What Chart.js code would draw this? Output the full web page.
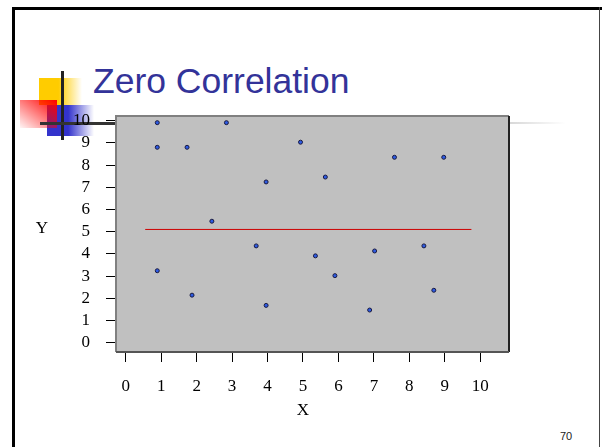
<!DOCTYPE html>
<html>
<head>
<meta charset="utf-8">
<script src="https://cdn.jsdelivr.net/npm/chart.js@4/dist/chart.umd.min.js"></script>
<style>
  html, body { margin: 0; padding: 0; background: #fff; }
  #slide { position: relative; width: 602px; height: 447px; overflow: hidden; background: #fff; }
  .abs { position: absolute; }
  #frameTop { left: 12px; top: 7px; width: 590px; height: 3px; background: #000; }
  #frameLeft { left: 12px; top: 7px; width: 3px; height: 440px; background: #000; }
  #frameRight { left: 599px; top: 7px; width: 1px; height: 440px; background: #444; }
  #sqYellow { left: 39px; top: 78px; width: 43px; height: 27px;
    background: linear-gradient(to right, #ffcc00 45%, rgba(255, 204, 0, 0)); }
  #sqBlue { left: 47px; top: 105px; width: 47px; height: 31px;
    background: linear-gradient(to right, #3333cc 45%, rgba(51, 51, 204, 0)); }
  #sqRed { left: 20px; top: 100px; width: 37px; height: 28px;
    background: linear-gradient(to bottom left, #ff0000, rgba(255, 0, 0, 0.04)); }
  #barV { left: 61px; top: 71px; width: 3px; height: 69px; background: #222; }
  #barH { left: 40px; top: 122px; width: 76px; height: 3px; background: #333; }
  #barFade { left: 510px; top: 122px; width: 56px; height: 2px;
    background: linear-gradient(to right, rgba(190, 190, 190, 0.6), rgba(190, 190, 190, 0)); }
  #title { left: 93px; top: 63px; font: 35.5px/36px "Liberation Sans", Arial, sans-serif; color: #333399; white-space: nowrap; }
  #pageNo { left: 560px; top: 429px; font: 11px/14px "Liberation Sans", Arial, sans-serif; color: #222; }
  #chart { position: absolute; left: 0; top: 0; }
</style>
</head>
<body>
<div id="slide">
  <div class="abs" id="frameTop"></div>
  <div class="abs" id="frameLeft"></div>
  <div class="abs" id="frameRight"></div>
  <div class="abs" id="sqYellow"></div>
  <div class="abs" id="sqBlue"></div>
  <div class="abs" id="sqRed"></div>
  <div class="abs" id="barV"></div>
  <div class="abs" id="barH"></div>
  <div class="abs" id="barFade"></div>
  <div class="abs" id="title">Zero Correlation</div>
  <div class="abs" id="pageNo">70</div>
  <canvas id="chart" width="602" height="447"></canvas>
</div>
<script>
// --- Data ---
const xValues = [0.89, 2.84, 0.89, 1.73, 4.93, 3.96, 2.43, 5.63, 7.58, 8.97,
                 0.89, 1.87, 3.68, 3.96, 5.35, 5.90, 7.02, 8.41, 8.69, 6.88];
const yValues = [9.91, 9.91, 8.80, 8.80, 9.03, 7.24, 5.47, 7.46, 8.35, 8.35,
                 3.24, 2.14, 4.36, 1.68, 3.91, 3.02, 4.13, 4.36, 2.36, 1.47];
const meanLineX = [0.55, 9.75];
const meanLineY = [5.10, 5.10];
const xTicks = [0, 1, 2, 3, 4, 5, 6, 7, 8, 9, 10];
const yTicks = [0, 1, 2, 3, 4, 5, 6, 7, 8, 9, 10];

const points = xValues.map((x, i) => ({ x, y: yValues[i] }));
const meanLine = meanLineX.map((x, i) => ({ x, y: meanLineY[i] }));

const serif = "'Liberation Serif', 'Times New Roman', serif";

// plot area background, frame and the X / Y axis labels
const plotDecor = {
  id: "plotDecor",
  beforeDraw(chart) {
    const { ctx, chartArea: a } = chart;
    ctx.save();
    ctx.fillStyle = "#c0c0c0";
    ctx.fillRect(a.left, a.top, a.right - a.left, a.bottom - a.top);
    ctx.restore();
  },
  afterDraw(chart) {
    const { ctx, chartArea: a } = chart;
    ctx.save();
    ctx.lineWidth = 2;
    ctx.strokeStyle = "#808080";
    ctx.beginPath();
    ctx.moveTo(a.left, a.bottom);
    ctx.lineTo(a.left, a.top);
    ctx.lineTo(a.right, a.top);
    ctx.stroke();
    ctx.strokeStyle = "#222";
    ctx.beginPath();
    ctx.moveTo(a.right, a.top);
    ctx.lineTo(a.right, a.bottom);
    ctx.stroke();
    ctx.strokeStyle = "#555";
    ctx.beginPath();
    ctx.moveTo(a.left, a.bottom);
    ctx.lineTo(a.right, a.bottom);
    ctx.stroke();

    ctx.fillStyle = "#000";
    ctx.font = "17px " + serif;
    ctx.textAlign = "center";
    ctx.textBaseline = "middle";
    ctx.fillText("Y", 42, (a.top + a.bottom) / 2 - 5);
    ctx.fillText("X", chart.scales.x.getPixelForValue(5), a.bottom + 59);
    ctx.restore();
  },
};

new Chart(document.getElementById("chart"), {
  type: "scatter",
  data: {
    datasets: [
      {
        type: "line",
        data: meanLine,
        borderColor: "#cc0000",
        borderWidth: 1,
        pointRadius: 0,
        fill: false,
      },
      {
        data: points,
        backgroundColor: "#2d5be3",
        borderColor: "#1a1a40",
        borderWidth: 1,
        pointRadius: 2,
      },
    ],
  },
  options: {
    responsive: false,
    animation: false,
    layout: { padding: { left: 0, top: 116, right: 93, bottom: 25 } },
    plugins: { legend: { display: false }, tooltip: { enabled: false } },
    scales: {
      x: {
        type: "linear",
        min: -0.274,
        max: 10.81,
        afterBuildTicks: (s) => { s.ticks = xTicks.map((v) => ({ value: v })); },
        afterFit: (s) => { s.height = 70; },
        border: { display: false },
        grid: { drawOnChartArea: false, drawTicks: true, tickLength: 10, color: "#000" },
        ticks: { color: "#000", font: { family: serif, size: 17 }, padding: 14, maxRotation: 0, autoSkip: false },
      },
      y: {
        type: "linear",
        min: -0.42,
        max: 10.21,
        afterBuildTicks: (s) => { s.ticks = yTicks.map((v) => ({ value: v })); },
        afterFit: (s) => { s.width = 116; },
        border: { display: false },
        grid: { drawOnChartArea: false, drawTicks: true, tickLength: 10, color: "#000" },
        ticks: { color: "#000", font: { family: serif, size: 17 }, padding: 16, autoSkip: false },
      },
    },
  },
  plugins: [plotDecor],
});
</script>
</body>
</html>
